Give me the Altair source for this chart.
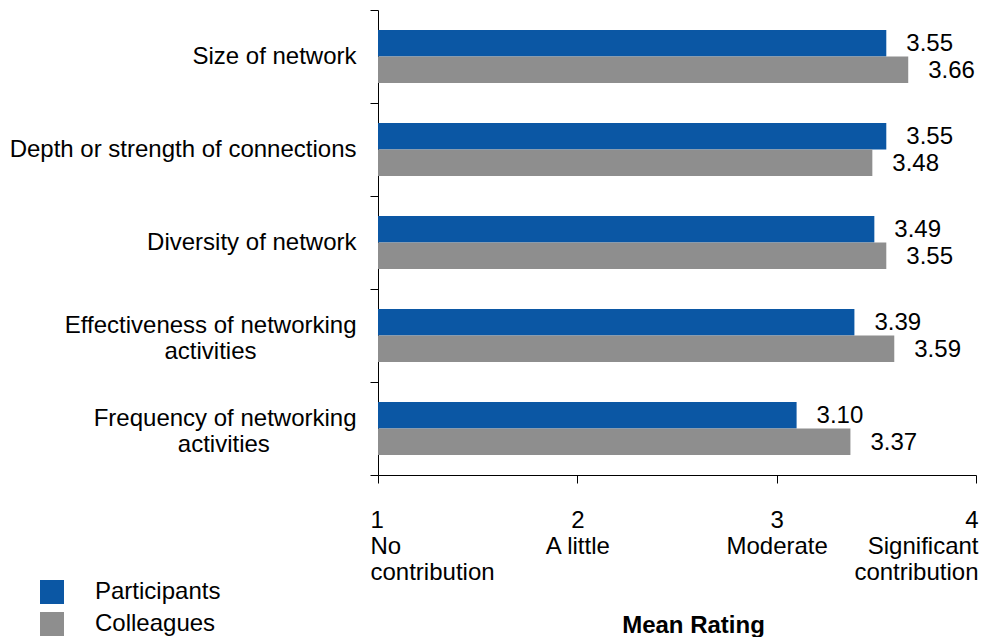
import json
import altair as alt
import pandas as pd

# ---- data ----
categories = [
    "Size of network",
    "Depth or strength of connections",
    "Diversity of network",
    "Effectiveness of networking activities",
    "Frequency of networking activities",
]
category_lines = [
    ["Size of network"],
    ["Depth or strength of connections"],
    ["Diversity of network"],
    ["Effectiveness of networking", "activities"],
    ["Frequency of networking", "activities"],
]
series = ["Participants", "Colleagues"]
participants = [3.55, 3.55, 3.49, 3.39, 3.10]
colleagues = [3.66, 3.48, 3.55, 3.59, 3.37]
x_ticks = [1, 2, 3, 4]
x_tick_lines = [
    ["1", "No", "contribution"],
    ["2", "A little"],
    ["3", "Moderate"],
    ["4", "Significant", "contribution"],
]
colors = ["#0B57A4", "#8E8E8E"]

rows = []
for c, p, q in zip(categories, participants, colleagues):
    rows.append({"category": c, "series": series[0], "value": p})
    rows.append({"category": c, "series": series[1], "value": q})
df = pd.DataFrame(rows)

FONT = "Liberation Sans"
FS = 24
# trailing no-break spaces to centre the second line under the first (styling only)
center_pad = [0, 0, 0, 15, 13]


def padded(lines, n):
    if len(lines) == 1:
        return lines
    return [lines[0]] + [l + "\u00a0" * n + "\u200b" for l in lines[1:]]


y_expr = "datum.label"
for c, lines, n in reversed(list(zip(categories, category_lines, center_pad))):
    y_expr = (
        f"datum.label == {json.dumps(c)} ? "
        f"{json.dumps(padded(lines, n), ensure_ascii=False)} : ({y_expr})"
    )

multi_test = " || ".join(
    f"datum.value == {json.dumps(c)}"
    for c, lines in zip(categories, category_lines)
    if len(lines) > 1
)

x_expr = "datum.label"
for v, lines in reversed(list(zip(x_ticks, x_tick_lines))):
    x_expr = f"datum.value == {v} ? {json.dumps(lines)} : ({x_expr})"

y_enc = alt.Y(
    "category:N",
    sort=categories,
    scale=alt.Scale(paddingInner=0, paddingOuter=0),
    axis=alt.Axis(
        title=None,
        labelExpr=y_expr,
        labelFont=FONT,
        labelFontSize=FS,
        labelLineHeight=26,
        labelColor="black",
        labelPadding=14,
        labelLimit=500,
        labelOffset={"condition": {"test": multi_test, "value": -10}, "value": 0},
        tickSize=8,
        tickBand="extent",
        tickColor="black",
        domainColor="black",
        labelBaseline="middle",
    ),
)
yoff_enc = alt.YOffset(
    "series:N", sort=series, scale=alt.Scale(paddingInner=0, paddingOuter=0.755)
)
x_scale = alt.Scale(domain=[1, 4], nice=False, zero=False)

bars = alt.Chart(df).mark_bar().encode(
    x=alt.X(
        "value:Q",
        scale=x_scale,
        axis=alt.Axis(
            values=x_ticks,
            labelExpr=x_expr,
            labelFont=FONT,
            labelFontSize=FS,
            labelLineHeight=26,
            labelColor="black",
            labelBaseline="top",
            labelPadding=25,
            labelAlign={
                "condition": [
                    {"test": "datum.value == 1", "value": "left"},
                    {"test": "datum.value == 4", "value": "right"},
                ],
                "value": "center",
            },
            labelOffset={
                "condition": [
                    {"test": "datum.value == 1", "value": -8},
                    {"test": "datum.value == 4", "value": 2},
                ],
                "value": 0,
            },
            tickSize=8,
            tickColor="black",
            domainColor="black",
            grid=False,
            title="Mean Rating",
            titleFont=FONT,
            titleFontSize=FS,
            titleFontWeight="bold",
            titleColor="black",
            titleX=315,
            titleY=150,
            titleAlign="center",
            titleBaseline="middle",
        ),
    ),
    x2=alt.datum(1),
    y=y_enc,
    yOffset=yoff_enc,
    color=alt.Color(
        "series:N",
        sort=series,
        scale=alt.Scale(domain=series, range=colors),
        legend=alt.Legend(
            title=None,
            orient="none",
            legendX=-338,
            legendY=570,
            symbolType="square",
            symbolSize=576,
            symbolStrokeWidth=0,
            symbolOpacity=1,
            labelFont=FONT,
            labelFontSize=FS,
            labelColor="black",
            labelOffset=31,
            rowPadding=8,
            padding=0,
        ),
    ),
)

labels = alt.Chart(df).mark_text(
    align="left", baseline="middle", dx=20, dy=1, font=FONT, fontSize=FS, color="black"
).encode(
    x=alt.X("value:Q", scale=x_scale),
    y=alt.Y("category:N", sort=categories),
    yOffset=alt.YOffset("series:N", sort=series),
    text=alt.Text("value:Q", format=".2f"),
)

chart = (
    alt.layer(bars, labels)
    .properties(
        width=598,
        height=465,
        padding={"left": 370, "top": 2, "right": 4, "bottom": 162},
        autosize=alt.AutoSizeParams(type="none"),
    )
    .configure_view(stroke=None)
)

chart.save("out.html", embed_options={"renderer": "svg", "actions": False})
